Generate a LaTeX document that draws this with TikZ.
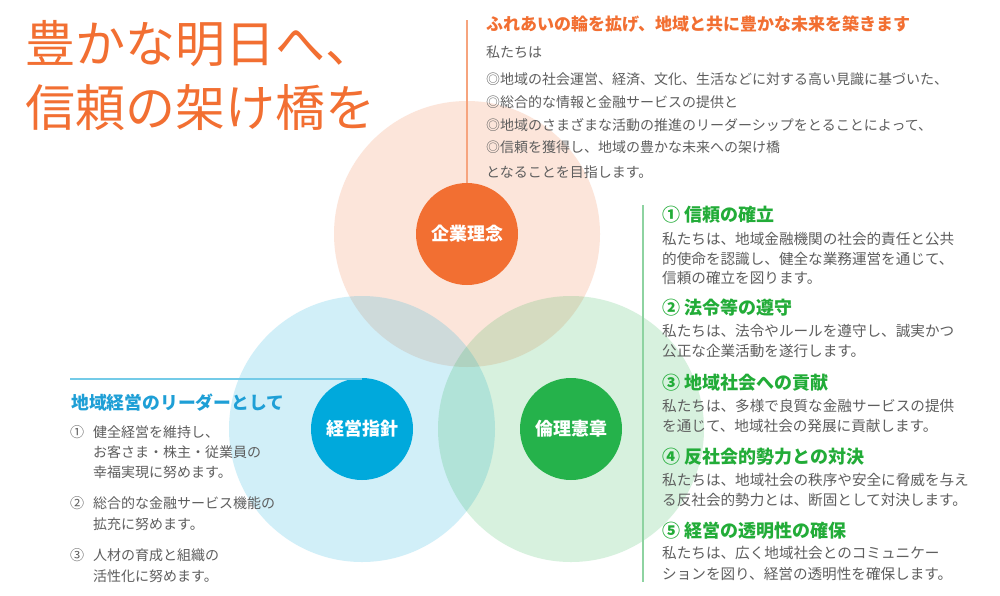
\documentclass[tikz,border=0pt]{standalone}
\usepackage{fontspec}
\setmainfont{Noto Sans CJK JP}
\definecolor{orA}{HTML}{F26F32}
\definecolor{blA}{HTML}{00A9DC}
\definecolor{grA}{HTML}{25B24B}
\definecolor{txtG}{HTML}{5E5E5E}
\definecolor{hdG}{HTML}{22AC38}
\definecolor{hdB}{HTML}{1E9FD6}
\definecolor{lnO}{HTML}{F6A47E}
\definecolor{lnG}{HTML}{8ED3A1}
\definecolor{lnB}{HTML}{74CBE8}
\begin{document}
\begin{tikzpicture}[x=1pt,y=-1pt,
  big/.style={circle, minimum size=266pt, inner sep=0pt, draw=none, fill opacity=0.18},
  small/.style={circle, minimum size=102pt, inner sep=0pt, text=white, font=\fontsize{18}{18}\selectfont\bfseries},
  tline/.style={anchor=base west, inner sep=0pt, text=orA, font=\fontsize{50}{50}\selectfont},
  ohead/.style={anchor=base west, inner sep=0pt, text=orA, font=\fontsize{17}{17}\selectfont\bfseries},
  body/.style={anchor=base west, inner sep=0pt, text=txtG, font=\fontsize{14}{14}\selectfont},
  rbody/.style={anchor=base west, inner sep=0pt, text=txtG, font=\fontsize{14.6}{14.6}\selectfont},
  ghead/.style={anchor=base west, inner sep=0pt, text=hdG, font=\fontsize{18}{18}\selectfont\bfseries},
  bhead/.style={anchor=base west, inner sep=0pt, text=hdB, font=\fontsize{17.8}{17.8}\selectfont\bfseries},
]
\useasboundingbox (0,0) rectangle (1000,595);
\fill[white] (0,0) rectangle (1000,595);
% big circles
\node[big, fill=orA] (oB) at (467,234) {};
\node[big, fill=blA] (bB) at (362,429) {};
\node[big, fill=grA] (gB) at (571,429) {};
% connector lines
\coordinate (oT) at (467,20);
\coordinate (bL) at (70,379);
\coordinate (gT) at (643,205);
\coordinate (gE) at (643,582);
% small circles
\node[small, fill=orA] (oS) at (467,234) {企業理念};
\node[small, fill=blA] (bS) at (362,429) {経営指針};
\node[small, fill=grA] (gS) at (571,429) {倫理憲章};
\draw[lnO, line width=1.8pt] (oT) -- (oS.north);
\draw[lnB, line width=1.5pt] (bL) -- (bL -| bS.north);
\draw[lnG, line width=1.8pt] (gT) -- (gE);
% title
\node[tline] (t1) at (25,62) {豊かな明日へ、};
\node[tline] (t2) at (25,126) {信頼の架け橋を};
% top block
\node[ohead] (oh) at (486,30.5) {ふれあいの輪を拡げ、地域と共に豊かな未来を築きます};
\node[body] (p0) at (486,57.5) {私たちは};
\node[body] (p1) at (486,84.5) {◎地域の社会運営、経済、文化、生活などに対する高い見識に基づいた、};
\node[body] (p2) at (486,107.5) {◎総合的な情報と金融サービスの提供と};
\node[body] (p3) at (486,130.5) {◎地域のさまざまな活動の推進のリーダーシップをとることによって、};
\node[body] (p4) at (486,152.5) {◎信頼を獲得し、地域の豊かな未来への架け橋};
\node[body] (p5) at (486,177.5) {となることを目指します。};
% right block
\node[ghead] (h1) at (662,221.5) {① 信頼の確立};
\node[rbody] (h1a) at (662,244.5) {私たちは、地域金融機関の社会的責任と公共};
\node[rbody] (h1b) at (662,264.2) {的使命を認識し、健全な業務運営を通じて、};
\node[rbody] (h1c) at (662,283.9) {信頼の確立を図ります。};
\node[ghead] (h2) at (662,314.5) {② 法令等の遵守};
\node[rbody] (h2a) at (662,336.5) {私たちは、法令やルールを遵守し、誠実かつ};
\node[rbody] (h2b) at (662,356.5) {公正な企業活動を遂行します。};
\node[ghead] (h3) at (662,389.5) {③ 地域社会への貢献};
\node[rbody] (h3a) at (662,411.5) {私たちは、多様で良質な金融サービスの提供};
\node[rbody] (h3b) at (662,431) {を通じて、地域社会の発展に貢献します。};
\node[ghead] (h4) at (662,463.5) {④ 反社会的勢力との対決};
\node[rbody] (h4a) at (662,485.5) {私たちは、地域社会の秩序や安全に脅威を与え};
\node[rbody] (h4b) at (662,505.5) {る反社会的勢力とは、断固として対決します。};
\node[ghead] (h5) at (662,537.5) {⑤ 経営の透明性の確保};
\node[rbody] (h5a) at (662,558.5) {私たちは、広く地域社会とのコミュニケー};
\node[rbody] (h5b) at (662,579) {ションを図り、経営の透明性を確保します。};
% left block
\node[bhead] (lh) at (71,409.6) {地域経営のリーダーとして};
\node[body] (n1) at (70,437.3) {①};
\node[body] (l1a) at (93,437.3) {健全経営を維持し、};
\node[body] (l1b) at (93,457.6) {お客さま・株主・従業員の};
\node[body] (l1c) at (93,477.9) {幸福実現に努めます。};
\node[body] (n2) at (70,508.3) {②};
\node[body] (l2a) at (93,508.3) {総合的な金融サービス機能の};
\node[body] (l2b) at (93,529) {拡充に努めます。};
\node[body] (n3) at (70,560.3) {③};
\node[body] (l3a) at (93,560.3) {人材の育成と組織の};
\node[body] (l3b) at (93,581) {活性化に努めます。};
\end{tikzpicture}
\end{document}
